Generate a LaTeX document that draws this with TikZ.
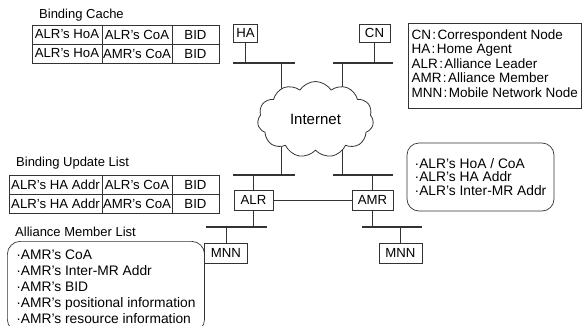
\documentclass[tikz,border=0pt]{standalone}
\usepackage{fontspec}
\setmainfont{Liberation Sans}
\usetikzlibrary{positioning,shapes.symbols,backgrounds}
\colorlet{LineGray}{black!80}
\newcommand{\abbrsep}{\kern1.3pt:\kern1.3pt}
\tikzset{
  cell/.style={draw=LineGray, line width=0.7pt, outer sep=0pt, minimum height=19pt,
    inner sep=0pt, font=\fontsize{13.2}{15}\selectfont},
  router/.style={draw=LineGray, line width=0.7pt, minimum height=19pt, inner sep=0pt,
    font=\fontsize{13.2}{15}\selectfont},
  caption/.style={anchor=west, inner sep=0pt, font=\fontsize{13}{15}\selectfont},
  infobox/.style={draw=LineGray, line width=0.7pt, rounded corners=13pt, align=left},
  bus/.style={draw=LineGray, line width=1.2pt},
  wire/.style={draw=LineGray, line width=0.8pt}
}

\begin{document}
\begin{tikzpicture}[x=1pt,y=-1pt]
\useasboundingbox (0,0) rectangle (582,325);
\clip (0,0) rectangle (582,325);

% binding cache (HA)
\node[caption] (cacheTitle) at (39,15) {Binding Cache};
\node[cell, minimum width=70pt] (cacheHoA1) at (67,34.5) {ALR’s HoA};
\node[cell, minimum width=70pt, right=0pt of cacheHoA1] (cacheCoA1) {ALR’s CoA};
\node[cell, minimum width=47pt, right=0pt of cacheCoA1] (cacheBID1) {BID};
\node[cell, minimum width=70pt, below=0pt of cacheHoA1] (cacheHoA2) {ALR’s HoA};
\node[cell, minimum width=70pt, right=0pt of cacheHoA2] (cacheCoA2) {AMR’s CoA};
\node[cell, minimum width=47pt, right=0pt of cacheCoA2] (cacheBID2) {BID};

% binding update list (ALR)
\node[caption] (bulTitle) at (16,163) {Binding Update List};
\node[cell, minimum width=93pt] (bulHA1) at (55.5,184.5) {ALR’s HA Addr};
\node[cell, minimum width=70pt, right=0pt of bulHA1] (bulCoA1) {ALR’s CoA};
\node[cell, minimum width=47pt, right=0pt of bulCoA1] (bulBID1) {BID};
\node[cell, minimum width=93pt, below=0pt of bulHA1] (bulHA2) {ALR’s HA Addr};
\node[cell, minimum width=70pt, right=0pt of bulHA2] (bulCoA2) {AMR’s CoA};
\node[cell, minimum width=47pt, right=0pt of bulCoA2] (bulBID2) {BID};

% alliance member list (ALR)
\node[caption] (amlTitle) at (15,232) {Alliance Member List};
\node[infobox, anchor=north west, minimum width=193pt, inner xsep=9pt, inner ysep=9pt,
  font=\fontsize{13.8}{15.8}\selectfont] (amlBox) at (7,241) {%
  ·AMR’s CoA\\
  ·AMR’s Inter-MR Addr\\
  ·AMR’s BID\\
  ·AMR’s positional information\\
  ·AMR’s resource information};

% HA and CN with their links
\node[router, minimum width=24pt, minimum height=18pt] (HA) at (245.5,33) {HA};
\node[router, minimum width=31pt, minimum height=18pt] (CN) at (374.5,33) {CN};
\coordinate (haBusW) at (233,63);
\coordinate (haBusE) at (295,63);
\coordinate (haUp) at (281,63);
\coordinate (cnBusW) at (333,63);
\coordinate (cnBusE) at (393,63);
\coordinate (cnUp) at (342,63);
\draw[bus] (haBusW) -- (haBusE);
\draw[bus] (cnBusW) -- (cnBusE);
\draw[wire] (HA) -- (HA |- haBusW);
\draw[wire] (CN) -- (CN |- cnBusW);

\node[cloud, draw=LineGray, line width=0.8pt, fill=white, cloud puffs=11,
  cloud puff arc=115, aspect=1.5, minimum width=116pt, minimum height=76pt,
  inner sep=0pt, font=\fontsize{15}{17}\selectfont] (net) at (315.5,119.5) {Internet};

% mobile network: ALR and AMR
\node[router, minimum width=39pt, minimum height=20pt] (ALR) at (253.5,200) {ALR};
\node[router, minimum width=41pt, minimum height=20pt] (AMR) at (372.5,200) {AMR};
\coordinate (alrBusW) at (233,175);
\coordinate (alrBusE) at (295,175);
\coordinate (alrUp) at (281,175);
\coordinate (amrBusW) at (333,175);
\coordinate (amrBusE) at (393,175);
\coordinate (amrUp) at (342,175);
\draw[bus] (alrBusW) -- (alrBusE);
\draw[bus] (amrBusW) -- (amrBusE);
\draw[wire] (ALR) -- (ALR |- alrBusW);
\draw[wire] (AMR) -- (AMR |- amrBusW);
\draw[wire] (ALR) -- (AMR);

\begin{scope}[on background layer]
  \draw[wire] (haUp) -- (haUp |- net.center);
  \draw[wire] (cnUp) -- (cnUp |- net.center);
  \draw[wire] (alrUp) -- (alrUp |- net.center);
  \draw[wire] (amrUp) -- (amrUp |- net.center);
\end{scope}

\node[router, minimum width=43pt, minimum height=20pt] (mnnA) at (226,253) {MNN};
\node[router, minimum width=43pt, minimum height=20pt] (mnnB) at (400.5,253) {MNN};
\coordinate (alrLanW) at (206,227);
\coordinate (alrLanE) at (267,227);
\coordinate (amrLanW) at (362,227);
\coordinate (amrLanE) at (422,227);
\draw[bus] (alrLanW) -- (alrLanE);
\draw[bus] (amrLanW) -- (amrLanE);
\draw[wire] (ALR) -- (ALR |- alrLanW);
\draw[wire] (AMR) -- (AMR |- amrLanW);
\draw[wire] (mnnA) -- (mnnA |- alrLanW);
\draw[wire] (mnnB) -- (mnnB |- amrLanW);

% ALR information
\node[infobox, rounded corners=12pt, minimum width=147pt, minimum height=68pt,
  font=\fontsize{13.8}{13.5}\selectfont] (alrInfo) at (480.5,177) {%
  ·ALR’s HoA / CoA\\
  ·ALR’s HA Addr\\
  ·ALR’s Inter-MR Addr};

% legend
\node[draw=LineGray, line width=0.7pt, minimum width=173pt, minimum height=85pt,
  anchor=north west] (legend) at (408,23) {};
\node[anchor=north west, align=left, inner sep=0pt, font=\fontsize{13.5}{14.5}\selectfont]
  (legendText) at ([xshift=3.5pt,yshift=-6.5pt]legend.north west) {%
  CN\abbrsep Correspondent Node\\
  HA\abbrsep Home Agent\\
  ALR\abbrsep Alliance Leader\\
  AMR\abbrsep Alliance Member\\
  MNN\abbrsep Mobile Network Node};
\end{tikzpicture}
\end{document}
